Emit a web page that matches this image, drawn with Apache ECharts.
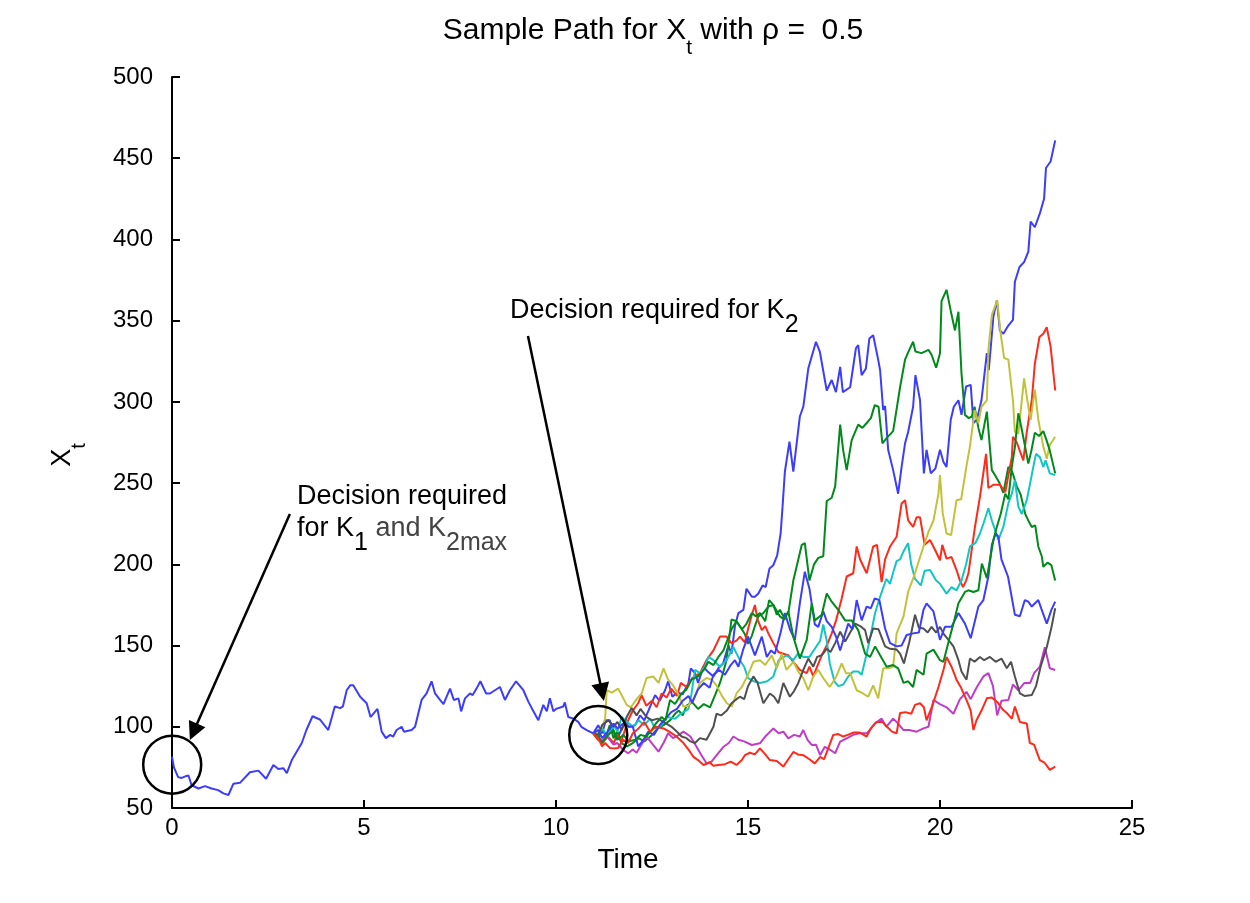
<!DOCTYPE html>
<html>
<head>
<meta charset="utf-8">
<script src="https://cdn.jsdelivr.net/npm/echarts@6/dist/echarts.min.js"></script>
<style>
  html, body { margin: 0; padding: 0; background: #fff; }
  #main { width: 1250px; height: 903px; }
</style>
</head>
<body>
<div id="main"></div>
<script>
// path before the decision at t = 11
const trunk = [[0,81.6],[0.05,75],[0.16,69],[0.25,68.5],[0.35,69.5],[0.43,70],[0.51,64],[0.69,62],[0.86,63.5],[1.03,62],[1.2,61],[1.34,59],[1.47,58],[1.6,65],[1.77,65.5],[2.03,72],[2.25,73],[2.45,68],[2.64,76.5],[2.77,74],[2.9,74.5],[2.99,71.5],[3.12,79.5],[3.38,90],[3.5,98],[3.66,106.5],[3.85,104.5],[4.07,98],[4.24,112.5],[4.38,111.5],[4.45,112.5],[4.55,122.5],[4.64,125.5],[4.72,125.5],[4.9,118.5],[5.07,114.5],[5.17,106],[5.35,111],[5.46,97],[5.57,93],[5.68,95],[5.76,94],[5.85,98],[5.98,100],[6.04,97],[6.24,98],[6.33,100],[6.5,116.5],[6.63,120.5],[6.76,128],[6.85,120.5],[6.98,116.5],[7.07,114],[7.24,123.5],[7.34,116.5],[7.46,117.5],[7.53,109.5],[7.63,117.5],[7.76,120.5],[7.83,119.5],[7.93,123.5],[8.03,128],[8.18,120.5],[8.28,120.5],[8.54,124.5],[8.67,116.5],[8.8,122.5],[8.96,128],[9.15,122.5],[9.28,115.5],[9.39,110.5],[9.43,111],[9.54,104],[9.67,113.5],[9.76,109.5],[9.84,117.5],[9.93,109.5],[10.0,111],[10.19,112.5],[10.23,115],[10.32,106],[10.45,105],[10.58,103],[10.66,100],[10.8,98],[10.97,96]]

// ten continuations after the decision point
const blueA = [[10.97,96],[11.1,101],[11.2,96],[11.3,104],[11.4,104],[11.5,97],[11.58,92],[11.7,98],[11.8,103],[11.9,100],[12.06,101],[12.19,107],[12.3,104],[12.49,114.5],[12.58,119.5],[12.7,116],[12.84,122.5],[12.92,128],[13.03,118.5],[13.15,121],[13.3,120],[13.45,127],[13.51,136],[13.62,133],[13.7,127],[13.84,137],[13.95,134],[14.1,131],[14.23,136],[14.35,139],[14.49,150],[14.57,145],[14.66,162],[14.75,170],[14.88,172],[14.96,185],[15.1,180],[15.18,180],[15.27,182],[15.38,187],[15.46,186],[15.56,197.5],[15.66,199.5],[15.76,205.5],[15.85,219],[15.9,235.5],[15.96,257],[16.08,275.5],[16.18,257],[16.35,291],[16.44,297],[16.57,320.5],[16.62,320.5],[16.77,337],[16.87,331],[17.05,307],[17.18,313.5],[17.29,306],[17.4,321.5],[17.47,306],[17.66,309],[17.81,333],[17.87,335],[17.96,316.5],[18.07,320.5],[18.16,339],[18.26,341],[18.39,326],[18.44,319.5],[18.52,295],[18.57,297.5],[18.65,270.5],[18.78,258],[18.91,243.5],[19.0,260],[19.09,274.5],[19.17,281.5],[19.3,297],[19.36,316.5],[19.48,301],[19.58,256],[19.65,270.5],[19.76,256],[19.88,259],[20.0,270.5],[20.09,263],[20.17,260],[20.28,289],[20.36,297],[20.48,301],[20.56,292],[20.68,309.5],[20.8,310.5],[20.87,287],[20.96,289],[21.08,301],[21.22,330],[21.27,319.5],[21.39,352.5],[21.48,362.5],[21.56,344],[21.65,342],[21.78,347],[21.9,350.5],[21.95,374],[22.07,383],[22.19,386],[22.3,392.5],[22.36,411],[22.47,407.5],[22.6,416],[22.71,425],[22.76,444],[22.88,448],[23.0,461]]
const greenA = [[10.97,96],[11.1,92],[11.2,99],[11.3,94],[11.4,101],[11.5,93],[11.6,97],[11.7,90],[11.85,88],[12.0,90],[12.15,93],[12.3,91],[12.5,95],[12.65,99],[12.8,101],[12.97,104],[13.1,108],[13.2,110],[13.3,107],[13.4,113],[13.55,115],[13.7,111],[13.85,114],[14.01,112],[14.15,120],[14.27,127],[14.36,134],[14.44,141],[14.57,166],[14.7,165],[14.84,160],[14.92,157],[15.0,151],[15.1,156],[15.18,162],[15.27,168],[15.4,170],[15.53,174],[15.66,175],[15.75,169],[15.83,172],[15.92,168],[16.05,170],[16.18,190],[16.31,203],[16.4,212],[16.48,213],[16.6,190],[16.72,200],[16.83,204],[16.96,205],[17.05,239],[17.18,241],[17.27,248],[17.4,286],[17.48,270],[17.57,258],[17.7,276.5],[17.87,286],[17.98,284],[18.09,287],[18.2,290],[18.3,298],[18.4,297],[18.5,274.5],[18.62,278],[18.78,282],[18.96,309],[19.09,326],[19.2,332],[19.3,337],[19.36,331],[19.52,330],[19.7,332],[19.78,329],[19.9,321],[20.0,330],[20.04,362],[20.17,369],[20.28,356],[20.39,344],[20.48,355.5],[20.56,317.5],[20.65,292],[20.75,290],[20.83,291],[20.9,297],[21.0,284],[21.08,276.5],[21.22,294],[21.35,258],[21.43,255],[21.55,250],[21.65,244],[21.78,260],[21.88,257],[22.0,248],[22.1,243],[22.22,231],[22.32,226],[22.39,223],[22.48,224],[22.56,211],[22.65,205],[22.69,198.5],[22.8,201],[22.9,199.5],[23.0,190]]
const redA = [[10.97,96],[11.1,92],[11.2,90],[11.35,94],[11.5,90],[11.6,95],[11.7,91],[11.88,104],[12.0,110],[12.14,114.5],[12.23,119.5],[12.35,113],[12.5,116],[12.62,112],[12.75,120.5],[12.88,118],[13.0,123.5],[13.15,119],[13.25,127],[13.4,124.5],[13.55,130],[13.75,133],[13.92,141],[14.1,147],[14.27,155.5],[14.44,155.5],[14.57,151.5],[14.7,153],[14.79,155.5],[14.92,152],[15.0,160],[15.1,169],[15.18,175],[15.25,166],[15.36,159.5],[15.45,162],[15.53,157.5],[15.66,151.5],[15.79,146],[15.92,145],[16.05,144],[16.18,140],[16.35,135],[16.53,133],[16.6,137],[16.7,131],[16.8,137],[16.92,144],[17.05,150],[17.18,157.5],[17.3,166],[17.44,179],[17.57,192.5],[17.74,194.5],[17.83,211],[17.92,203],[18.09,194.5],[18.26,211],[18.36,212],[18.48,189],[18.57,203],[18.7,211],[18.87,217],[19.0,237.5],[19.09,239.5],[19.17,227],[19.3,223],[19.39,229],[19.48,229],[19.6,212],[19.74,215],[19.87,209],[20.0,202.5],[20.06,212],[20.17,203.5],[20.3,204.5],[20.43,196.5],[20.52,190],[20.6,186],[20.68,190],[20.74,194.5],[20.91,223],[21.04,241.5],[21.2,268],[21.26,247],[21.39,249],[21.56,249],[21.7,244.5],[21.87,266],[21.9,278.5],[22.0,275],[22.17,264],[22.26,281.5],[22.39,301],[22.47,323.5],[22.59,340],[22.69,342],[22.78,346],[22.88,334],[23.0,307]]
const cyanPath = [[10.97,96],[11.1,95],[11.2,99],[11.35,94],[11.5,101],[11.6,97],[11.71,106],[11.85,103],[12.01,100],[12.15,104],[12.3,101],[12.45,105],[12.58,99],[12.71,100],[12.9,106],[13.1,105],[13.25,108],[13.45,111],[13.53,120.5],[13.62,135],[13.75,133],[13.88,137],[13.97,143],[14.1,141],[14.27,137],[14.44,141],[14.62,149],[14.79,141],[14.9,137],[15.0,130],[15.15,128],[15.31,127],[15.5,128],[15.66,131],[15.8,141],[16.0,144],[16.18,141],[16.3,145],[16.44,143],[16.6,143],[16.74,148],[16.88,153],[16.96,163],[17.05,153],[17.13,139],[17.25,128],[17.35,125],[17.48,126],[17.61,131],[17.74,134],[17.87,134],[17.96,132],[18.09,145],[18.2,157],[18.31,170],[18.44,180],[18.6,191],[18.7,188],[18.78,195],[18.87,202],[18.96,203],[19.05,208],[19.17,213],[19.25,200],[19.35,191],[19.5,187],[19.6,196],[19.74,196.5],[19.9,190],[20.0,188],[20.17,182],[20.3,186],[20.43,184],[20.56,190],[20.68,200],[20.78,211],[20.92,213],[21.04,219],[21.13,225],[21.26,234.5],[21.35,227],[21.52,215],[21.65,223],[21.78,237.5],[21.87,243.5],[21.95,252],[22.04,235.5],[22.13,231],[22.26,239.5],[22.34,249],[22.43,260],[22.5,268],[22.6,266],[22.69,260],[22.75,264],[22.86,256],[23.0,255]]
const magentaPath = [[10.97,96],[11.1,94],[11.2,91],[11.3,95],[11.4,92],[11.5,89],[11.6,90],[11.75,85.7],[11.88,83.7],[12.0,86],[12.1,84],[12.19,87.7],[12.36,94],[12.53,88.8],[12.67,84.7],[12.8,90],[12.92,96],[13.05,93],[13.2,95],[13.32,97],[13.5,94],[13.66,87.7],[13.8,82],[13.92,77.5],[14.05,78.5],[14.2,83],[14.36,87.7],[14.5,90],[14.62,94],[14.75,92],[14.9,91],[15.1,88.8],[15.31,89.8],[15.45,94],[15.66,99],[15.8,96],[15.92,97],[16.05,92.9],[16.2,95],[16.35,94],[16.44,98],[16.55,92],[16.66,88.8],[16.77,89],[16.88,82.6],[17.0,87.7],[17.13,86],[17.27,83.7],[17.4,90.8],[17.57,92.9],[17.74,95],[17.9,96],[18.1,96],[18.3,102],[18.48,105],[18.6,100],[18.78,105],[18.91,102],[19.05,98],[19.2,98],[19.39,97],[19.57,99],[19.7,100],[19.83,116.5],[20.0,114],[20.17,112],[20.35,108],[20.52,117],[20.69,121.5],[20.8,117],[20.95,124],[21.13,131],[21.26,133],[21.38,125],[21.49,107],[21.6,116],[21.78,116.5],[21.9,126],[22.04,122.5],[22.2,127],[22.35,127],[22.45,133],[22.6,137],[22.73,149],[22.86,136],[23.0,135]]
const yellowPath = [[10.97,96],[11.1,97],[11.2,100],[11.28,105],[11.32,122.5],[11.45,121],[11.62,123.5],[11.71,119.5],[11.84,113.5],[11.95,112],[12.1,117],[12.23,120.5],[12.36,130],[12.53,131],[12.67,127],[12.8,136],[12.92,129],[13.05,125.5],[13.18,120],[13.32,112.5],[13.45,113],[13.6,118],[13.75,127],[13.92,130],[14.05,129],[14.18,125.5],[14.32,119],[14.45,114.5],[14.58,112.5],[14.7,120.5],[14.84,124.5],[15.0,132],[15.14,140],[15.31,141],[15.45,138],[15.62,144],[15.75,136],[15.88,145],[16.0,135],[16.18,140],[16.31,134],[16.44,130],[16.57,122.5],[16.7,131],[16.83,135],[16.96,130],[17.13,124.5],[17.3,131],[17.44,139],[17.55,133],[17.66,133],[17.83,122.5],[17.96,121],[18.13,118.5],[18.26,125.5],[18.39,117.5],[18.52,136],[18.65,136],[18.78,137],[18.87,157.5],[19.05,168],[19.17,183],[19.35,194.5],[19.4,198.5],[19.57,211],[19.7,220],[19.83,227],[19.96,243.5],[20.0,255],[20.07,231.5],[20.17,219],[20.29,218],[20.43,239.5],[20.55,240],[20.7,262],[20.78,272.5],[20.87,289],[20.9,295],[21.0,287],[21.08,297],[21.22,301],[21.26,332],[21.35,353.5],[21.49,362.5],[21.58,342],[21.67,327],[21.78,326],[21.9,301],[21.95,281.5],[22.04,280.5],[22.19,314.5],[22.3,297],[22.36,289],[22.47,307.5],[22.56,289],[22.69,272.5],[22.78,265],[22.86,273.5],[23.0,278.5]]
const grayPath = [[10.97,96],[11.1,95],[11.2,101],[11.37,104],[11.5,100],[11.6,103],[11.71,98],[11.84,106],[11.97,111.5],[12.1,107],[12.2,111],[12.36,106],[12.5,104],[12.65,105],[12.8,103],[13.01,100],[13.15,97],[13.27,94],[13.4,93],[13.5,91],[13.62,90],[13.75,93],[13.92,92],[14.1,100],[14.18,108],[14.3,107],[14.45,110],[14.57,114.5],[14.7,117],[14.79,118.5],[14.9,117],[15.0,125],[15.14,131],[15.25,127],[15.4,114.5],[15.57,120.5],[15.68,118.5],[15.79,114.5],[15.92,127],[16.09,118.5],[16.2,122],[16.31,127],[16.44,135],[16.57,142],[16.7,137],[16.8,143],[16.92,144],[17.05,148],[17.15,146],[17.27,151.5],[17.4,158.5],[17.53,152.5],[17.66,158],[17.79,163.5],[17.92,162],[18.05,159.5],[18.13,151.5],[18.26,160.5],[18.4,160],[18.57,149.5],[18.7,148],[18.87,147.5],[18.96,145],[19.06,139],[19.2,152],[19.35,169],[19.45,161],[19.57,160.5],[19.68,158],[19.78,161.5],[19.9,158],[20.0,161.5],[20.1,157],[20.22,153.5],[20.35,149.5],[20.48,141],[20.56,134],[20.69,129],[20.78,142],[20.9,140],[21.04,143],[21.15,141],[21.3,143],[21.45,140],[21.6,142],[21.74,136],[21.85,140],[21.95,131],[22.08,120.5],[22.2,119],[22.39,119.5],[22.5,125],[22.62,137],[22.78,149],[22.9,161],[23.0,173]]
const blueB = [[10.97,96],[11.1,98],[11.2,93],[11.35,97],[11.5,102],[11.6,99],[11.75,102],[11.9,100],[12.0,100],[12.14,88],[12.25,91],[12.4,97],[12.55,95],[12.7,101],[12.85,105],[13.0,109],[13.15,111],[13.3,116],[13.45,119],[13.55,115],[13.7,123],[13.85,127],[14.0,124],[14.1,132],[14.25,135],[14.4,132],[14.55,138],[14.66,141],[14.75,137],[14.88,148],[15.0,155.5],[15.18,144],[15.36,155.5],[15.49,143],[15.6,147],[15.7,145],[15.85,158],[15.96,170],[16.1,159.5],[16.22,153.5],[16.35,176],[16.48,195.5],[16.6,185],[16.74,163],[16.83,161.5],[16.96,171],[17.05,165],[17.18,161.5],[17.3,155],[17.4,147],[17.5,155],[17.61,163.5],[17.72,160],[17.83,178],[17.96,165.5],[18.09,174],[18.2,173],[18.3,179],[18.42,178],[18.57,160.5],[18.7,151.5],[18.87,149.5],[19.0,150],[19.13,156.5],[19.3,157.5],[19.45,158],[19.57,172],[19.65,176],[19.83,171],[20.0,153.5],[20.13,161.5],[20.3,161.5],[20.48,170],[20.65,163.5],[20.8,154.5],[21.0,174],[21.13,178],[21.26,192.5],[21.35,212],[21.45,219],[21.52,217],[21.6,203],[21.77,192.5],[21.95,169],[22.08,168],[22.21,178],[22.3,177],[22.39,174],[22.56,178],[22.68,170],[22.78,163.5],[22.9,172],[23.0,177]]
const greenB = [[10.97,96],[11.1,94],[11.2,90],[11.35,95],[11.5,98],[11.6,92],[11.75,95],[11.9,91],[12.06,92],[12.2,95],[12.35,94],[12.49,98],[12.6,102],[12.75,106],[12.85,104],[12.97,116.5],[13.1,114],[13.27,120.5],[13.4,123],[13.53,129],[13.7,131],[13.85,135],[13.97,140],[14.1,138],[14.23,143],[14.36,147],[14.57,160],[14.7,165],[14.84,160],[14.95,163],[15.1,170],[15.2,168],[15.31,170],[15.45,165],[15.55,178],[15.66,175],[15.83,168],[15.95,166],[16.05,171],[16.18,155.5],[16.35,142],[16.53,153.5],[16.66,176],[16.74,165.5],[16.92,169],[17.05,182],[17.18,177],[17.35,172],[17.53,165.5],[17.7,165.5],[17.87,159.5],[18.05,145],[18.18,143],[18.31,149.5],[18.44,144],[18.61,137],[18.78,138],[18.91,136],[19.05,127],[19.17,128],[19.3,124.5],[19.39,135],[19.57,132],[19.65,145],[19.83,147.5],[20.0,141],[20.09,140],[20.22,152],[20.35,163.5],[20.48,176],[20.65,183],[20.74,184],[20.87,183],[21.0,184],[21.09,200.5],[21.22,191.5],[21.39,215],[21.48,223],[21.58,231],[21.7,243.5],[21.78,240],[21.87,260],[21.95,272],[22.04,293],[22.13,283],[22.22,272],[22.3,262],[22.38,270],[22.47,281],[22.58,279],[22.69,282],[22.78,276],[22.86,270],[23.0,256]]
const redB = [[10.97,96],[11.1,93],[11.2,88],[11.28,90],[11.4,87],[11.49,86.7],[11.62,87],[11.75,92],[11.88,90],[12.0,96],[12.15,99],[12.3,103],[12.45,97],[12.6,100],[12.8,99],[12.95,97],[13.14,94],[13.32,90],[13.45,86],[13.58,81.5],[13.7,79.5],[13.84,76.5],[14.0,78],[14.1,76],[14.23,76.5],[14.4,77],[14.55,78.5],[14.7,76.5],[14.84,79.5],[14.92,82.5],[15.05,84],[15.18,83],[15.31,86.7],[15.45,83],[15.57,79.5],[15.75,79],[15.92,75.5],[16.05,80],[16.18,84.5],[16.3,83],[16.44,82.5],[16.6,80],[16.74,77.5],[16.88,81.5],[16.98,80],[17.09,86.7],[17.22,95],[17.35,95.5],[17.48,94],[17.6,95],[17.75,96.5],[17.9,96.5],[18.09,94],[18.2,99],[18.35,103],[18.5,103],[18.62,100],[18.75,97],[18.87,96],[18.96,108.5],[19.1,109],[19.25,108],[19.35,113.5],[19.48,114.5],[19.58,112],[19.65,104],[19.8,113],[19.96,124.5],[20.09,135],[20.17,143],[20.3,137],[20.43,129],[20.55,124],[20.7,116],[20.8,110],[20.87,98],[20.95,104],[21.08,110],[21.22,117.5],[21.35,118],[21.5,115],[21.62,111],[21.74,108.5],[21.87,105],[21.95,112.5],[22.08,103],[22.26,102],[22.34,90],[22.45,89],[22.6,79.5],[22.72,78],[22.86,73.5],[23.0,75.5]]

// circled decision points and arrows (data coords)
const decisionPoints = [[0.005,76.7],[11.1,94.9]]
const arrowK1 = [[3.07,231],[0.56,96.9]]
const arrowK2 = [[9.27,340.6],[11.2,121.3]]

const FONT = "'Liberation Sans', Arial, Helvetica, sans-serif"
const C = {
  blue: '#3c3cff', green: '#008a1a', red: '#ff2a1a', cyan: '#12c6c6',
  magenta: '#c03cc8', yellow: '#c2c23a', gray: '#505050'
}

const main = document.getElementById('main')
const myChart = echarts.init(main, null, { renderer: 'canvas' })

function path(data, color) {
  return {
    type: 'line', data, showSymbol: false, symbol: 'none', silent: true,
    lineStyle: { color, width: 2 }, itemStyle: { color }, animation: false
  }
}

const axisCommon = {
  axisLine: { lineStyle: { color: '#000', width: 2 } },
  axisTick: { inside: true, length: 8, lineStyle: { color: '#000', width: 2 } },
  splitLine: { show: false },
  axisLabel: { color: '#000', fontSize: 24, fontFamily: FONT }
}

myChart.setOption({
  animation: false,
  backgroundColor: '#fff',
  grid: { left: 172, right: 118, top: 77, bottom: 95, outerBoundsMode: 'none' },
  xAxis: Object.assign({ type: 'value', min: 0, max: 25, interval: 5 }, axisCommon,
    { axisLabel: Object.assign({}, axisCommon.axisLabel, { margin: 8 }) }),
  yAxis: Object.assign({ type: 'value', min: 50, max: 500, interval: 50 }, axisCommon,
    { axisLabel: Object.assign({}, axisCommon.axisLabel, { margin: 19 }) }),
  series: [
    path(trunk, C.blue),
    path(blueA, C.blue),
    path(greenA, C.green),
    path(redA, C.red),
    path(cyanPath, C.cyan),
    path(magentaPath, C.magenta),
    path(yellowPath, C.yellow),
    path(grayPath, C.gray),
    path(blueB, C.blue),
    path(greenB, C.green),
    path(redB, C.red),
    {
      type: 'scatter', data: decisionPoints, symbol: 'circle', symbolSize: 58, silent: true, z: 5,
      itemStyle: { color: 'rgba(0,0,0,0)', borderColor: '#000', borderWidth: 2.5, opacity: 1 },
      markLine: {
        silent: true, animation: false,
        symbol: ['none', 'triangle'], symbolSize: 18,
        lineStyle: { color: '#000', width: 2.5, type: 'solid', opacity: 1 },
        itemStyle: { color: '#000' },
        label: { show: false },
        emphasis: { disabled: true },
        data: [
          [{ coord: arrowK1[0] }, { coord: arrowK1[1] }],
          [{ coord: arrowK2[0] }, { coord: arrowK2[1] }]
        ]
      }
    }
  ],
  graphic: [
    {
      type: 'text', x: 653, y: 16, silent: true,
      style: {
        text: '{b|Sample Path for X}{sub|t}{b| with ρ =  0.5}',
        align: 'center', verticalAlign: 'top',
        rich: {
          b: { fontSize: 30, fontFamily: FONT, fill: '#000', verticalAlign: 'top' },
          sub: { fontSize: 21, fontFamily: FONT, fill: '#000', verticalAlign: 'bottom', padding: [22, 0, 0, 0] }
        }
      }
    },
    {
      type: 'text', x: 49, y: 455, rotation: Math.PI / 2, silent: true,
      style: {
        text: '{b|X}{sub|t}', align: 'center', verticalAlign: 'top',
        rich: {
          b: { fontSize: 27, fontFamily: FONT, fill: '#000', verticalAlign: 'top' },
          sub: { fontSize: 20, fontFamily: FONT, fill: '#000', verticalAlign: 'bottom', padding: [20, 0, 0, 0] }
        }
      }
    },
    {
      type: 'text', x: 628, y: 860, silent: true,
      style: { text: 'Time', fontSize: 28, fontFamily: FONT, fill: '#000', align: 'center', verticalAlign: 'middle' }
    },
    {
      type: 'text', x: 297, y: 496.5, silent: true,
      style: { text: 'Decision required', fontSize: 27, fontFamily: FONT, fill: '#000', align: 'left', verticalAlign: 'middle' }
    },
    {
      type: 'text', x: 297, y: 515.5, silent: true,
      style: {
        text: '{b|for K}{s|1}{g| and K}{gs|2max}', align: 'left', verticalAlign: 'top',
        rich: {
          b: { fontSize: 27, fontFamily: FONT, fill: '#000', verticalAlign: 'top' },
          s: { fontSize: 25, fontFamily: FONT, fill: '#000', verticalAlign: 'bottom', padding: [15, 0, 0, 0] },
          g: { fontSize: 27, fontFamily: FONT, fill: '#444', verticalAlign: 'top' },
          gs: { fontSize: 25, fontFamily: FONT, fill: '#444', verticalAlign: 'bottom', padding: [15, 0, 0, 0] }
        }
      }
    },
    {
      type: 'text', x: 510, y: 297.5, silent: true,
      style: {
        text: '{b|Decision required for K}{s|2}', align: 'left', verticalAlign: 'top',
        rich: {
          b: { fontSize: 27, fontFamily: FONT, fill: '#000', verticalAlign: 'top' },
          s: { fontSize: 25, fontFamily: FONT, fill: '#000', verticalAlign: 'bottom', padding: [15, 0, 0, 0] }
        }
      }
    }
  ]
})
</script>
</body>
</html>
